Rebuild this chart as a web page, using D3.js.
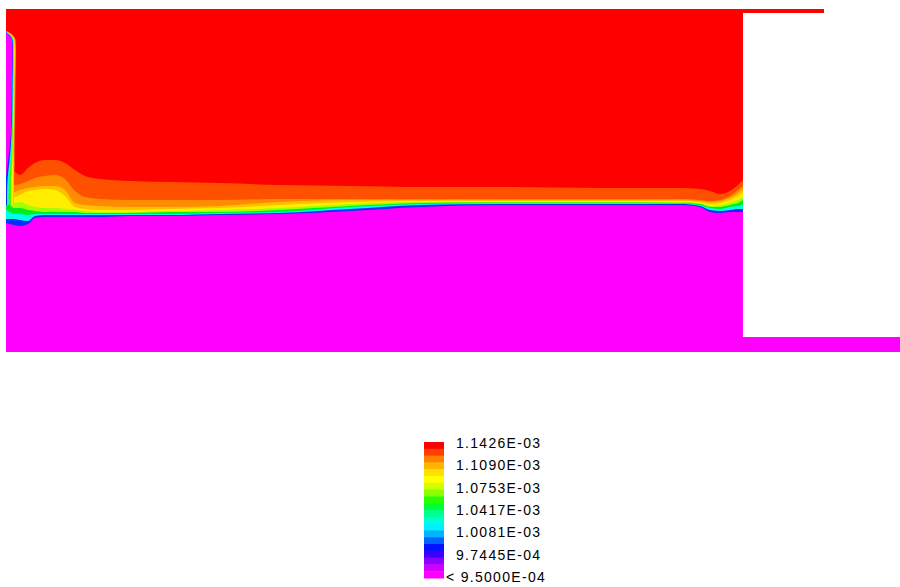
<!DOCTYPE html>
<html>
<head>
<meta charset="utf-8">
<script src="https://cdn.jsdelivr.net/npm/d3@7"></script>
<style>
  body { margin: 0; background: #fff; }
</style>
</head>
<body>
<svg id="chart"></svg>
<script>
// mesh x positions (grid units from the left wall)
var xMesh = [0, 4, 8, 14, 22, 29, 39, 49, 59, 69, 79, 94, 124, 164, 214, 274, 344, 414, 494, 594, 674, 694, 704, 714, 724, 732, 737];

// contour lines (depth from the top wall) - one per level boundary
var contour1 = [163,163,163,166,159,154,151,151,154,161,167,170,172,173,174,176,177,178,178,179,179,180,182,185,182,176,171];
var contour2 = [171,173,176,175,172,169,167,166,170,182,188,190,191,191,191,190,190,190,190,190,190,191,192,191,187,181,177];
var contour3 = [176,179,183,181,179,178,177,177,181,194,196,197,198,198,197,193,191,191,191,191,191,192,193,192,189,184,180];
var contour4 = [181,184,188,186,182,181,180,181,187,198,200,201,201,200,199,196,193,192,192,192,192,193,195,194,191,187,183];
var contour5 = [187,190,194,193,196,198,199,199,200,201,202,203,203,202,201,199,195,193,193,193,193,194,197,196,194,191,188];
var contour6 = [193,196,199,199,201,202,203,203,203,203,204,204,204,203,203,201,197,194,193.5,193.5,194,195,198,198,196,194,191];
var contour7 = [201,203,205,205,206,205,205,205,205,205,205,205,205,205,204,203,198,195,194,194,194.5,196,199,200,198,197,196];
var contour8 = [210,210,210,211,212,207,206,206,206,206,206,206,206,206,205,204,200,196,195,195,195,197,201,202,201,200,200];
var contour9 = [214,215,216,217,215,209,208,208,208,208,208,208,207,207,206,205,202,198,196,196,196,198,203,204,203,203,203];
var bandColors = ["#ff0000","#ff5000","#ff8c00","#ffbe00","#ffee00","#a0ff00","#00ee20","#00ffe8","#0030ff","#ff00ff"];

// left wall boundary layer (x extent at each depth)
var stripDepth   = [22, 24, 27, 31, 41, 71, 111, 141, 156, 171, 186, 196];
var stripOrange  = [0, 4, 7.5, 9.5, 10, 9.5, 9, 8.5, 8.5, 8, 8, 8];
var stripYellow  = [0, 3, 6.5, 8.5, 9, 8.5, 8, 7.5, 7.5, 7.5, 7.5, 7.5];
var stripGreen   = [0, 2, 5.5, 7.5, 8, 7.5, 7, 6.5, 6, 5, 5, 5];
var stripCyan    = [0, 1.5, 5, 7, 7.5, 7, 6.5, 5.5, 4.5, 3, 2.5, 2.5];
var stripBlue    = [0, 1, 4.5, 6.5, 7, 6.5, 6, 4.5, 3, 1.5, 1, 1];
var stripMagenta = [0, 0.5, 4, 6, 6.5, 6, 5.5, 3.5, 1.5, 0, 0, 0];
var stripColors = ["#ff9000","#ffee00","#40ff00","#00ffe0","#0030ff","#ff00ff"];

// legend
var legendColors = ["#ff0000","#ff4000","#ff8000","#ffb400","#ffe000","#ffff00","#d2ff00","#8cff00","#28ff00","#00ff32",
                    "#00ff8c","#00ffd2","#00f0ff","#00b4ff","#0064ff","#0014ff","#3c00ff","#8c00ff","#d200ff","#ff00ff"];
var legendLabels = ["1.1426E-03","1.1090E-03","1.0753E-03","1.0417E-03","1.0081E-03","9.7445E-04","< 9.5000E-04"];

var width = 900, height = 587;
var svg = d3.select('#chart').attr('width', width).attr('height', height);

var x = d3.scaleLinear().domain([0, 894]).range([6, 900]);
var y = d3.scaleLinear().domain([0, 343]).range([9, 352]);

// domain outline pieces
svg.append('rect')
  .attr('x', x(0)).attr('y', y(0))
  .attr('width', x(737) - x(0)).attr('height', y(343) - y(0))
  .attr('fill', bandColors[0]);
svg.append('rect')
  .attr('x', x(737)).attr('y', y(0))
  .attr('width', x(818) - x(737)).attr('height', y(4) - y(0))
  .attr('fill', bandColors[0]);
svg.append('rect')
  .attr('x', x(737)).attr('y', y(328))
  .attr('width', x(894) - x(737)).attr('height', y(343) - y(328))
  .attr('fill', bandColors[9]);

var field = svg.append('g');
var contours = [contour1, contour2, contour3, contour4, contour5, contour6, contour7, contour8, contour9];
var area = d3.area()
  .x(function(d, i) { return x(xMesh[i]); })
  .y0(y(343))
  .y1(function(d) { return y(d); })
  .curve(d3.curveMonotoneX);
contours.forEach(function(c, k) {
  field.append('path').datum(c).attr('d', area).attr('fill', bandColors[k + 1]);
});

var strips = [stripOrange, stripYellow, stripGreen, stripCyan, stripBlue, stripMagenta];
var stripArea = d3.area()
  .y(function(d, i) { return y(stripDepth[i]); })
  .x0(x(0))
  .x1(function(d) { return x(d); })
  .curve(d3.curveMonotoneY);
strips.forEach(function(s, k) {
  field.append('path').datum(s).attr('d', stripArea).attr('fill', stripColors[k]);
});

// colour bar
var lg = svg.append('g');
var band = d3.scaleBand().domain(d3.range(legendColors.length)).range([442, 578]);
lg.selectAll('rect').data(legendColors).enter().append('rect')
  .attr('x', 424).attr('y', function(d, i) { return band(i); })
  .attr('width', 20).attr('height', band.bandwidth() + 0.5)
  .attr('fill', function(d) { return d; });
var ty = d3.scaleLinear().domain([0, legendLabels.length - 1]).range([443, 577]);
lg.selectAll('text').data(legendLabels).enter().append('text')
  .attr('x', function(d, i) { return i == legendLabels.length - 1 ? 446 : 456; })
  .attr('y', function(d, i) { return ty(i); })
  .attr('dy', '0.36em')
  .style('font-family', 'Liberation Sans, Arial, sans-serif')
  .style('font-size', '14px')
  .style('letter-spacing', '1.3px')
  .attr('fill', '#000')
  .text(function(d) { return d; });
</script>
</body>
</html>
